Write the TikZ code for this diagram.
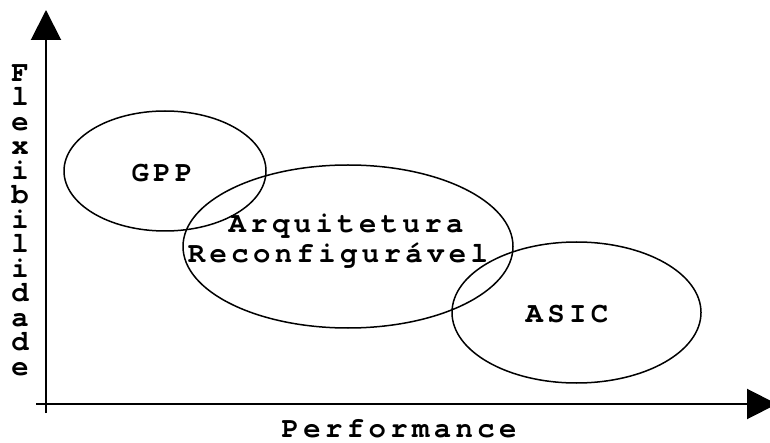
\documentclass[tikz,border=0pt]{standalone}
\usepackage{fontspec}
\usetikzlibrary{arrows.meta}
\newfontfamily\courbold[LetterSpace=15,Ligatures={NoCommon},BoldFont={* Bold}]{TeX Gyre Cursor}
\begin{document}
\begin{tikzpicture}[x=1pt,y=-1pt,
  axis/.style={line width=2pt,-{Triangle[length=30pt,width=30pt]}},
  region/.style={line width=1.5pt},
  label/.style={font={\courbold\bfseries\fontsize{29}{30}\selectfont},inner sep=0pt,align=center}]
\useasboundingbox (0,0) rectangle (770,443);
% axes
\coordinate (ybot) at (46,413);
\coordinate (ytop) at (46,10);
\coordinate (xleft) at (36,404);
\coordinate (xright) at (777,404);
\draw[axis] (ybot) -- (ytop);
\draw[axis] (xleft) -- (xright);
% regions
\draw[region] (165,171) ellipse [x radius=101,y radius=60];
\draw[region] (348,246.5) ellipse [x radius=165,y radius=81.5];
\draw[region] (576.5,312.5) ellipse [x radius=124.5,y radius=70.5];
% labels
\node[label,anchor=base] (gpp) at (162,182) {GPP};
\node[label,anchor=base] (arq) at (346,233) {Arquitetura};
\node[label,anchor=base] (rec) at (338,263) {Reconfigurável};
\node[label,anchor=base] (asic) at (567,322) {ASIC};
\node[label,anchor=base] (perf) at (399,437) {Performance};
\node[label,font={\courbold\bfseries\fontsize{29}{24.5}\selectfont},anchor=north] (flex) at (20,64)
  {F\\l\\e\\x\\i\\b\\i\\l\\i\\d\\a\\d\\e};
\end{tikzpicture}
\end{document}
